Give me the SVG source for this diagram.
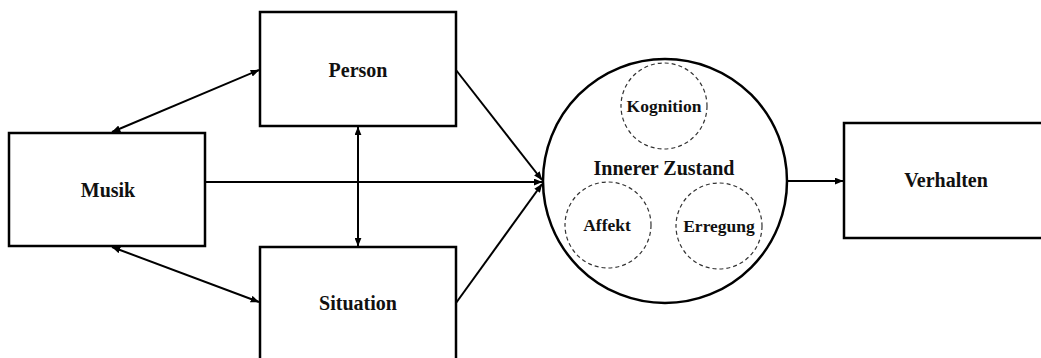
<svg xmlns="http://www.w3.org/2000/svg" width="1041" height="358" viewBox="0 0 1041 358">
<defs>
<style>
.box{fill:#fff;stroke:#000;stroke-width:2.5}
.big{fill:#fff;stroke:#000;stroke-width:2.5}
.dash{fill:none;stroke:#333;stroke-width:1.2;stroke-dasharray:4 3}
.lbl{font-family:"Liberation Serif","Times New Roman",serif;font-weight:bold;font-size:20px;fill:#111;text-anchor:middle}
.sm{font-size:17.5px}
.con{fill:none;stroke:#000;stroke-width:2}
</style>
<marker id="ah" viewBox="0 0 10 8" refX="9.5" refY="4" markerWidth="9" markerHeight="7" markerUnits="userSpaceOnUse" orient="auto-start-reverse">
<path d="M0,0 L10,4 L0,8 Z" fill="#000"/>
</marker>
</defs>
<rect width="1041" height="358" fill="#fff"/>
<g id="connectors">
<line class="con" x1="112" y1="132" x2="259" y2="70" marker-start="url(#ah)" marker-end="url(#ah)"/>
<line class="con" x1="112" y1="247" x2="259" y2="302" marker-start="url(#ah)" marker-end="url(#ah)"/>
<line class="con" x1="358" y1="127" x2="358" y2="246" marker-start="url(#ah)" marker-end="url(#ah)"/>
<line class="con" x1="206" y1="182" x2="542" y2="182" marker-end="url(#ah)"/>
<line class="con" x1="456" y1="70" x2="542" y2="180" marker-end="url(#ah)"/>
<line class="con" x1="456" y1="303" x2="542" y2="184" marker-end="url(#ah)"/>
<line class="con" x1="788" y1="181" x2="843" y2="181" marker-end="url(#ah)"/>
</g>
<g id="person">
<rect class="box" x="260" y="12" width="196" height="114"/>
<text class="lbl" x="358" y="77">Person</text>
</g>
<g id="musik">
<rect class="box" x="9" y="133" width="196" height="113"/>
<text class="lbl" x="108" y="197">Musik</text>
</g>
<g id="situation">
<rect class="box" x="260" y="247" width="196" height="120"/>
<text class="lbl" x="358" y="310">Situation</text>
</g>
<g id="innerer-zustand">
<circle class="big" cx="665" cy="181" r="122"/>
<text class="lbl" x="664" y="175">Innerer Zustand</text>
</g>
<g id="kognition">
<circle class="dash" cx="664" cy="106" r="43"/>
<text class="lbl sm" x="664" y="112">Kognition</text>
</g>
<g id="affekt">
<circle class="dash" cx="608" cy="225" r="43"/>
<text class="lbl sm" x="607" y="231">Affekt</text>
</g>
<g id="erregung">
<circle class="dash" cx="719" cy="226" r="43"/>
<text class="lbl sm" x="719" y="232">Erregung</text>
</g>
<g id="verhalten">
<rect class="box" x="844" y="123" width="210" height="115"/>
<text class="lbl" x="946" y="187">Verhalten</text>
</g>
</svg>
